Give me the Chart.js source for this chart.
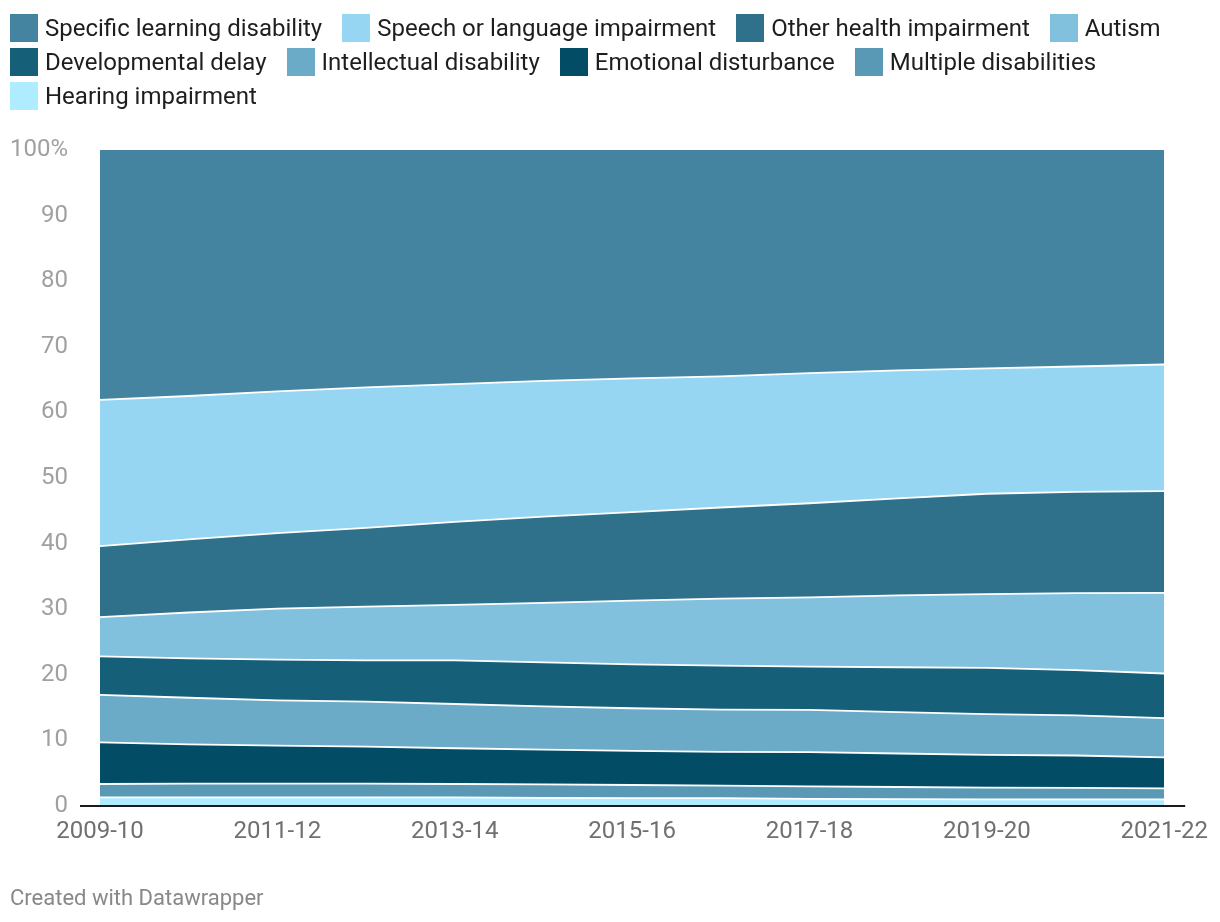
<!DOCTYPE html>
<html><head><meta charset="utf-8">
<script src="https://cdn.jsdelivr.net/npm/chart.js@4.4.0/dist/chart.umd.min.js"></script>
<style>
html,body{margin:0;padding:0;background:#fff;}
#wrap{position:relative;width:1220px;height:922px;overflow:hidden;}
#c{position:absolute;left:0;top:0;}
#legend{position:absolute;left:10px;top:11px;width:1200px;display:flex;flex-wrap:wrap;font-family:Roboto, sans-serif;font-size:24px;color:#1e1e1e;}
.item{display:flex;align-items:center;height:34px;margin-right:20px;white-space:nowrap;}
.sw{width:28px;height:28px;margin-right:7px;flex:none;}
#footer{position:absolute;left:10px;top:884px;font:22px Roboto, sans-serif;color:#888;line-height:28px;}
</style></head><body>
<div id="wrap"><canvas id="c"></canvas><div id="legend"></div><div id="footer">Created with Datawrapper</div></div>
<script>
const years = ['2009-10','2010-11','2011-12','2012-13','2013-14','2014-15','2015-16','2016-17','2017-18','2018-19','2019-20','2020-21','2021-22'];
const yTicks = [0,10,20,30,40,50,60,70,80,90,100];

// share (%) of each category, bottom of the stack first
const hearing      = [1.3,1.3,1.3,1.3,1.3,1.25,1.2,1.2,1.1,1.05,1.0,1.0,1.0];
const multiple     = [2.05,2.1,2.1,2.1,2.05,2.05,2.0,1.9,1.9,1.85,1.8,1.75,1.7];
const emotional    = [6.35,6.0,5.8,5.65,5.45,5.3,5.2,5.15,5.2,5.1,5.0,4.95,4.7];
const intellectual = [7.25,7.1,6.9,6.85,6.75,6.6,6.5,6.45,6.45,6.3,6.2,6.1,6.0];
const developmental= [5.85,6.0,6.2,6.3,6.65,6.7,6.7,6.7,6.6,6.85,7.05,6.9,6.8];
const autism       = [6.0,7.0,7.8,8.2,8.45,9.05,9.7,10.2,10.55,10.95,11.25,11.75,12.3];
const otherHealth  = [10.8,11.15,11.5,12.0,12.65,13.15,13.5,13.9,14.35,14.8,15.3,15.45,15.5];
const speech       = [22.3,21.85,21.6,21.4,21.0,20.7,20.4,20.0,19.85,19.5,19.1,19.1,19.3];
const learning     = [38.1,37.5,36.8,36.2,35.7,35.2,34.8,34.5,34.0,33.6,33.3,33.0,32.7];

const seriesNames = ['Hearing impairment','Multiple disabilities','Emotional disturbance','Intellectual disability','Developmental delay','Autism','Other health impairment','Speech or language impairment','Specific learning disability'];
const seriesData = [hearing, multiple, emotional, intellectual, developmental, autism, otherHealth, speech, learning];
const seriesColors = ['#afecff','#5999b5','#024c66','#6babc8','#165f79','#82c1de','#2f718b','#97d6f3','#4584a1'];

Chart.defaults.font.family = 'Roboto, sans-serif';

const datasets = seriesNames.map((name, i) => ({
  label: name,
  data: seriesData[i],
  backgroundColor: seriesColors[i],
  borderColor: i === seriesNames.length - 1 ? 'rgba(0,0,0,0)' : '#ffffff',
  borderWidth: i === seriesNames.length - 1 ? 0 : 1.8,
  fill: i === 0 ? 'origin' : '-1',
  pointRadius: 0,
  pointHoverRadius: 0,
  tension: 0
}));

const axisLine = {
  id: 'axisLine',
  afterDatasetsDraw(chart) {
    const { ctx, chartArea } = chart;
    const y = chart.scales.y.getPixelForValue(0);
    ctx.save();
    ctx.strokeStyle = '#1a1a1a';
    ctx.lineWidth = 2;
    ctx.beginPath();
    ctx.moveTo(chartArea.left - 20, y);
    ctx.lineTo(chartArea.right + 21, y);
    ctx.stroke();
    ctx.restore();
  }
};

const htmlLegend = {
  id: 'htmlLegend',
  afterUpdate(chart) {
    const box = document.getElementById('legend');
    box.innerHTML = '';
    const items = Chart.defaults.plugins.legend.labels.generateLabels(chart).reverse();
    items.forEach(it => {
      const d = document.createElement('div');
      d.className = 'item';
      const sw = document.createElement('span');
      sw.className = 'sw';
      sw.style.background = it.fillStyle;
      const t = document.createElement('span');
      t.textContent = it.text;
      d.appendChild(sw);
      d.appendChild(t);
      box.appendChild(d);
    });
  }
};

new Chart(document.getElementById('c'), {
  type: 'line',
  data: { labels: years, datasets },
  plugins: [axisLine, htmlLegend],
  options: {
    responsive: true,
    maintainAspectRatio: false,
    animation: false,
    layout: { padding: { top: 150, right: 55, left: 0, bottom: 0 } },
    plugins: {
      filler: { drawTime: 'beforeDatasetsDraw' },
      tooltip: { enabled: false },
      legend: { display: false }
    },
    scales: {
      x: {
        offset: false,
        grid: { display: false, drawTicks: false },
        border: { display: false },
        ticks: {
          autoSkip: false,
          maxRotation: 0,
          padding: 12,
          color: '#707070',
          font: { size: 24 },
          callback: (v, i) => (i % 2 === 0 ? years[i] : '')
        },
        afterFit: s => { s.height = 116; }
      },
      y: {
        stacked: true,
        min: 0,
        max: 100,
        grid: { display: false, drawTicks: false },
        border: { display: false },
        afterBuildTicks: s => { s.ticks = yTicks.map(v => ({ value: v })); },
        ticks: {
          padding: 32,
          color: '#a0a0a0',
          font: { size: 24 },
          callback: v => (v === 100 ? '100%' : String(v))
        },
        afterFit: s => { s.width = 100; }
      }
    }
  }
});
</script>
</body></html>
